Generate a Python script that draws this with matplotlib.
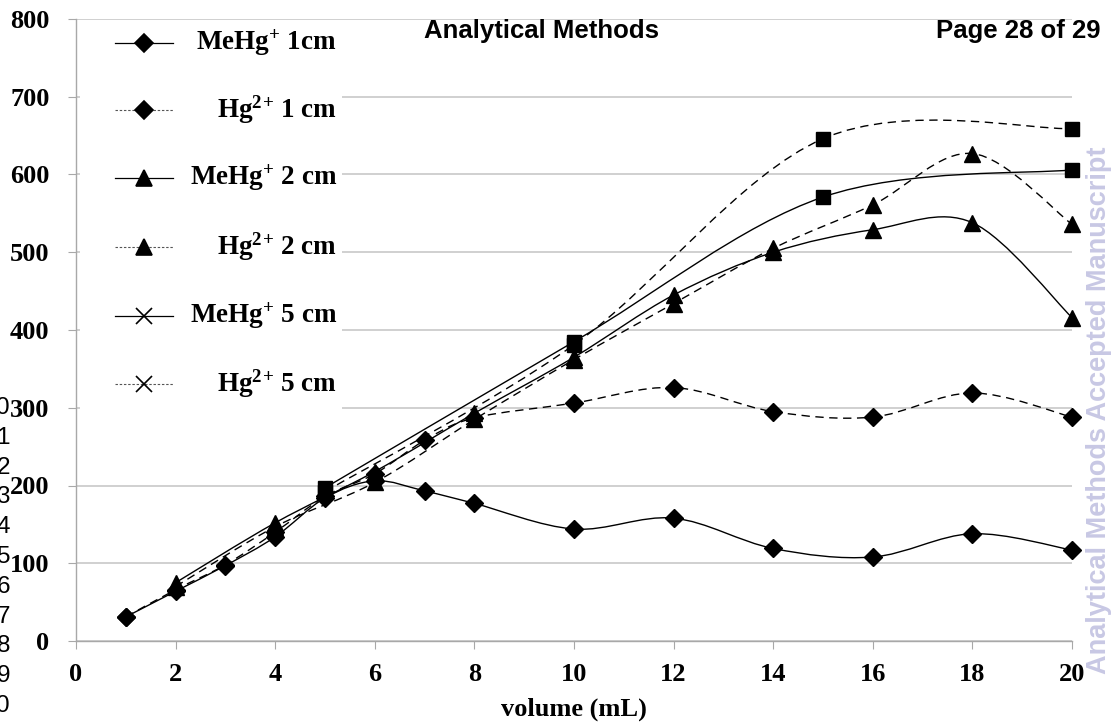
import matplotlib
matplotlib.use("Agg")
import matplotlib.pyplot as plt
from matplotlib.path import Path
from matplotlib.patches import PathPatch, Rectangle
from matplotlib.lines import Line2D

plt.rcParams['font.family'] = 'Liberation Serif'
plt.rcParams['mathtext.fontset'] = 'custom'
plt.rcParams['mathtext.rm'] = 'Liberation Serif:bold'
plt.rcParams['mathtext.it'] = 'Liberation Serif:bold'
plt.rcParams['mathtext.bf'] = 'Liberation Serif:bold'

# data
x_1cm = [1, 2, 3, 4, 5, 6, 7, 8, 10, 12, 14, 16, 18, 20]
mehg_1cm = [31, 64, 97, 134, 184, 206, 193, 177, 144, 158, 119, 108, 138, 117]
hg_1cm = [31, 66, 98, 140, 186, 215, 258, 287, 306, 326, 295, 288, 319, 288]

x_2cm = [2, 4, 6, 8, 10, 12, 14, 16, 18, 20]
mehg_2cm = [75, 152, 218, 293, 365, 445, 500, 529, 538, 416]
hg_2cm = [70, 147, 204, 285, 362, 434, 505, 561, 627, 536]

x_5cm = [5, 10, 15, 20]
mehg_5cm = [197, 385, 571, 606]
hg_5cm = [192, 381, 646, 659]

legend_labels = [r"MeHg$^{+}$ 1cm", r"Hg$^{2}$$^{+}$ 1 cm", r"MeHg$^{+}$ 2 cm",
                 r"Hg$^{2}$$^{+}$ 2 cm", r"MeHg$^{+}$ 5 cm", r"Hg$^{2}$$^{+}$ 5 cm"]
x_ticks = list(range(0, 21, 2))
y_ticks = list(range(0, 801, 100))

W, H = 1118, 723


def smooth_path(xs, ys):
    # excel style smoothed line as bezier segments
    verts = [(xs[0], ys[0])]
    codes = [Path.MOVETO]
    n = len(xs)
    for i in range(n - 1):
        x0, y0 = (xs[i - 1], ys[i - 1]) if i > 0 else (xs[i], ys[i])
        x1, y1 = xs[i], ys[i]
        x2, y2 = xs[i + 1], ys[i + 1]
        x3, y3 = (xs[i + 2], ys[i + 2]) if i + 2 < n else (x2, y2)
        verts.append((x1 + (x2 - x0) / 6, y1 + (y2 - y0) / 6))
        verts.append((x2 - (x3 - x1) / 6, y2 - (y3 - y1) / 6))
        verts.append((x2, y2))
        codes += [Path.CURVE4] * 3
    return Path(verts, codes)


def fx(px):
    return px / W


def fy(py):
    return 1 - py / H


fig = plt.figure(figsize=(W / 100, H / 100), dpi=100)
ax = fig.add_axes([fx(76), fy(641), (1072 - 76) / W, (641 - 19) / H])

series = [
    (x_1cm, mehg_1cm, 'D', 9, '-'),
    (x_1cm, hg_1cm, 'D', 9, '--'),
    (x_2cm, mehg_2cm, '^', 12, '-'),
    (x_2cm, hg_2cm, '^', 12, '--'),
    (x_5cm, mehg_5cm, 's', 9.5, '-'),
    (x_5cm, hg_5cm, 's', 9.5, '--'),
]

for xs, ys, mk, ms, ls in series:
    p = PathPatch(smooth_path(xs, ys), facecolor='none', edgecolor='black',
                  lw=1.0, zorder=3, clip_on=False)
    if ls == '--':
        p.set_linestyle((0, (6, 4)))
    ax.add_patch(p)
    ax.plot(xs, ys, linestyle='none', marker=mk, markersize=ms, color='black',
            zorder=4, clip_on=False)

ax.set_xlim(0, 20)
ax.set_ylim(0, 800)
ax.set_xticks(x_ticks)
ax.set_yticks(y_ticks)
ax.grid(axis='y', color='#c4c4c4', lw=1.1, zorder=0)
ax.set_axisbelow(True)
for s in ['top', 'right']:
    ax.spines[s].set_visible(False)
for s in ['left', 'bottom']:
    ax.spines[s].set_color('#a8a8a8')
    ax.spines[s].set_linewidth(1.0)
ax.tick_params(axis='both', direction='out', length=6, color='#a8a8a8',
               labelsize=19)
ax.tick_params(axis='y', pad=13)
ax.tick_params(axis='x', pad=10)
for t in ax.get_xticklabels() + ax.get_yticklabels():
    t.set_fontweight('bold')
ax.set_xlabel("volume (mL)", fontsize=19, fontweight='bold', labelpad=8)

# legend box drawn by hand
fig.add_artist(Rectangle((fx(80), fy(414)), fx(342) - fx(80), fy(22) - fy(414),
                         transform=fig.transFigure, facecolor='white',
                         edgecolor='none', zorder=1))
leg_rows = [43, 110, 178, 247, 316, 384]
leg_markers = [('D', 9), ('D', 9), ('^', 12), ('^', 12), ('x', 11), ('x', 11)]
for i, (lab, ry) in enumerate(zip(legend_labels, leg_rows)):
    mk, ms = leg_markers[i]
    if i % 2 == 0:
        fig.add_artist(Line2D([fx(115), fx(173)], [fy(ry), fy(ry)],
                              transform=fig.transFigure, color='black',
                              lw=0.9, zorder=2))
    else:
        fig.add_artist(Line2D([fx(115), fx(173)], [fy(ry), fy(ry)],
                              transform=fig.transFigure, color='#555555',
                              lw=0.8, dashes=(2.2, 1.6), zorder=2))
    fig.add_artist(Line2D([fx(144)], [fy(ry)], transform=fig.transFigure,
                          marker=mk, markersize=ms, color='black',
                          markeredgewidth=1.2, linestyle='none', zorder=3))
    fig.text(fx(337), fy(ry), lab, ha='right', va='center', fontsize=19.5,
             fontweight='bold', zorder=3)

# page header, watermark and line numbers from the manuscript page
fig.text(fx(542), fy(31), "Analytical Methods", ha='center', va='center',
         fontsize=18.5, fontweight='bold', family='Liberation Sans')
fig.text(fx(1100), fy(31), "Page 28 of 29", ha='right', va='center',
         fontsize=18.5, fontweight='bold', family='Liberation Sans')
fig.text(fx(1099), fy(410), "Analytical Methods Accepted Manuscript",
         rotation=90, ha='center', va='center', fontsize=19.5,
         fontweight='bold', family='Liberation Sans', color='#c8c8e4')
line_nums = ["0", "1", "2", "3", "4", "5", "6", "7", "8", "9", "0"]
for k, s in enumerate(line_nums):
    fig.text(fx(10), fy(408 + 29.8 * k), s, ha='right', va='center',
             fontsize=17.5, family='Liberation Sans')

fig.savefig("out.png", dpi=100)
